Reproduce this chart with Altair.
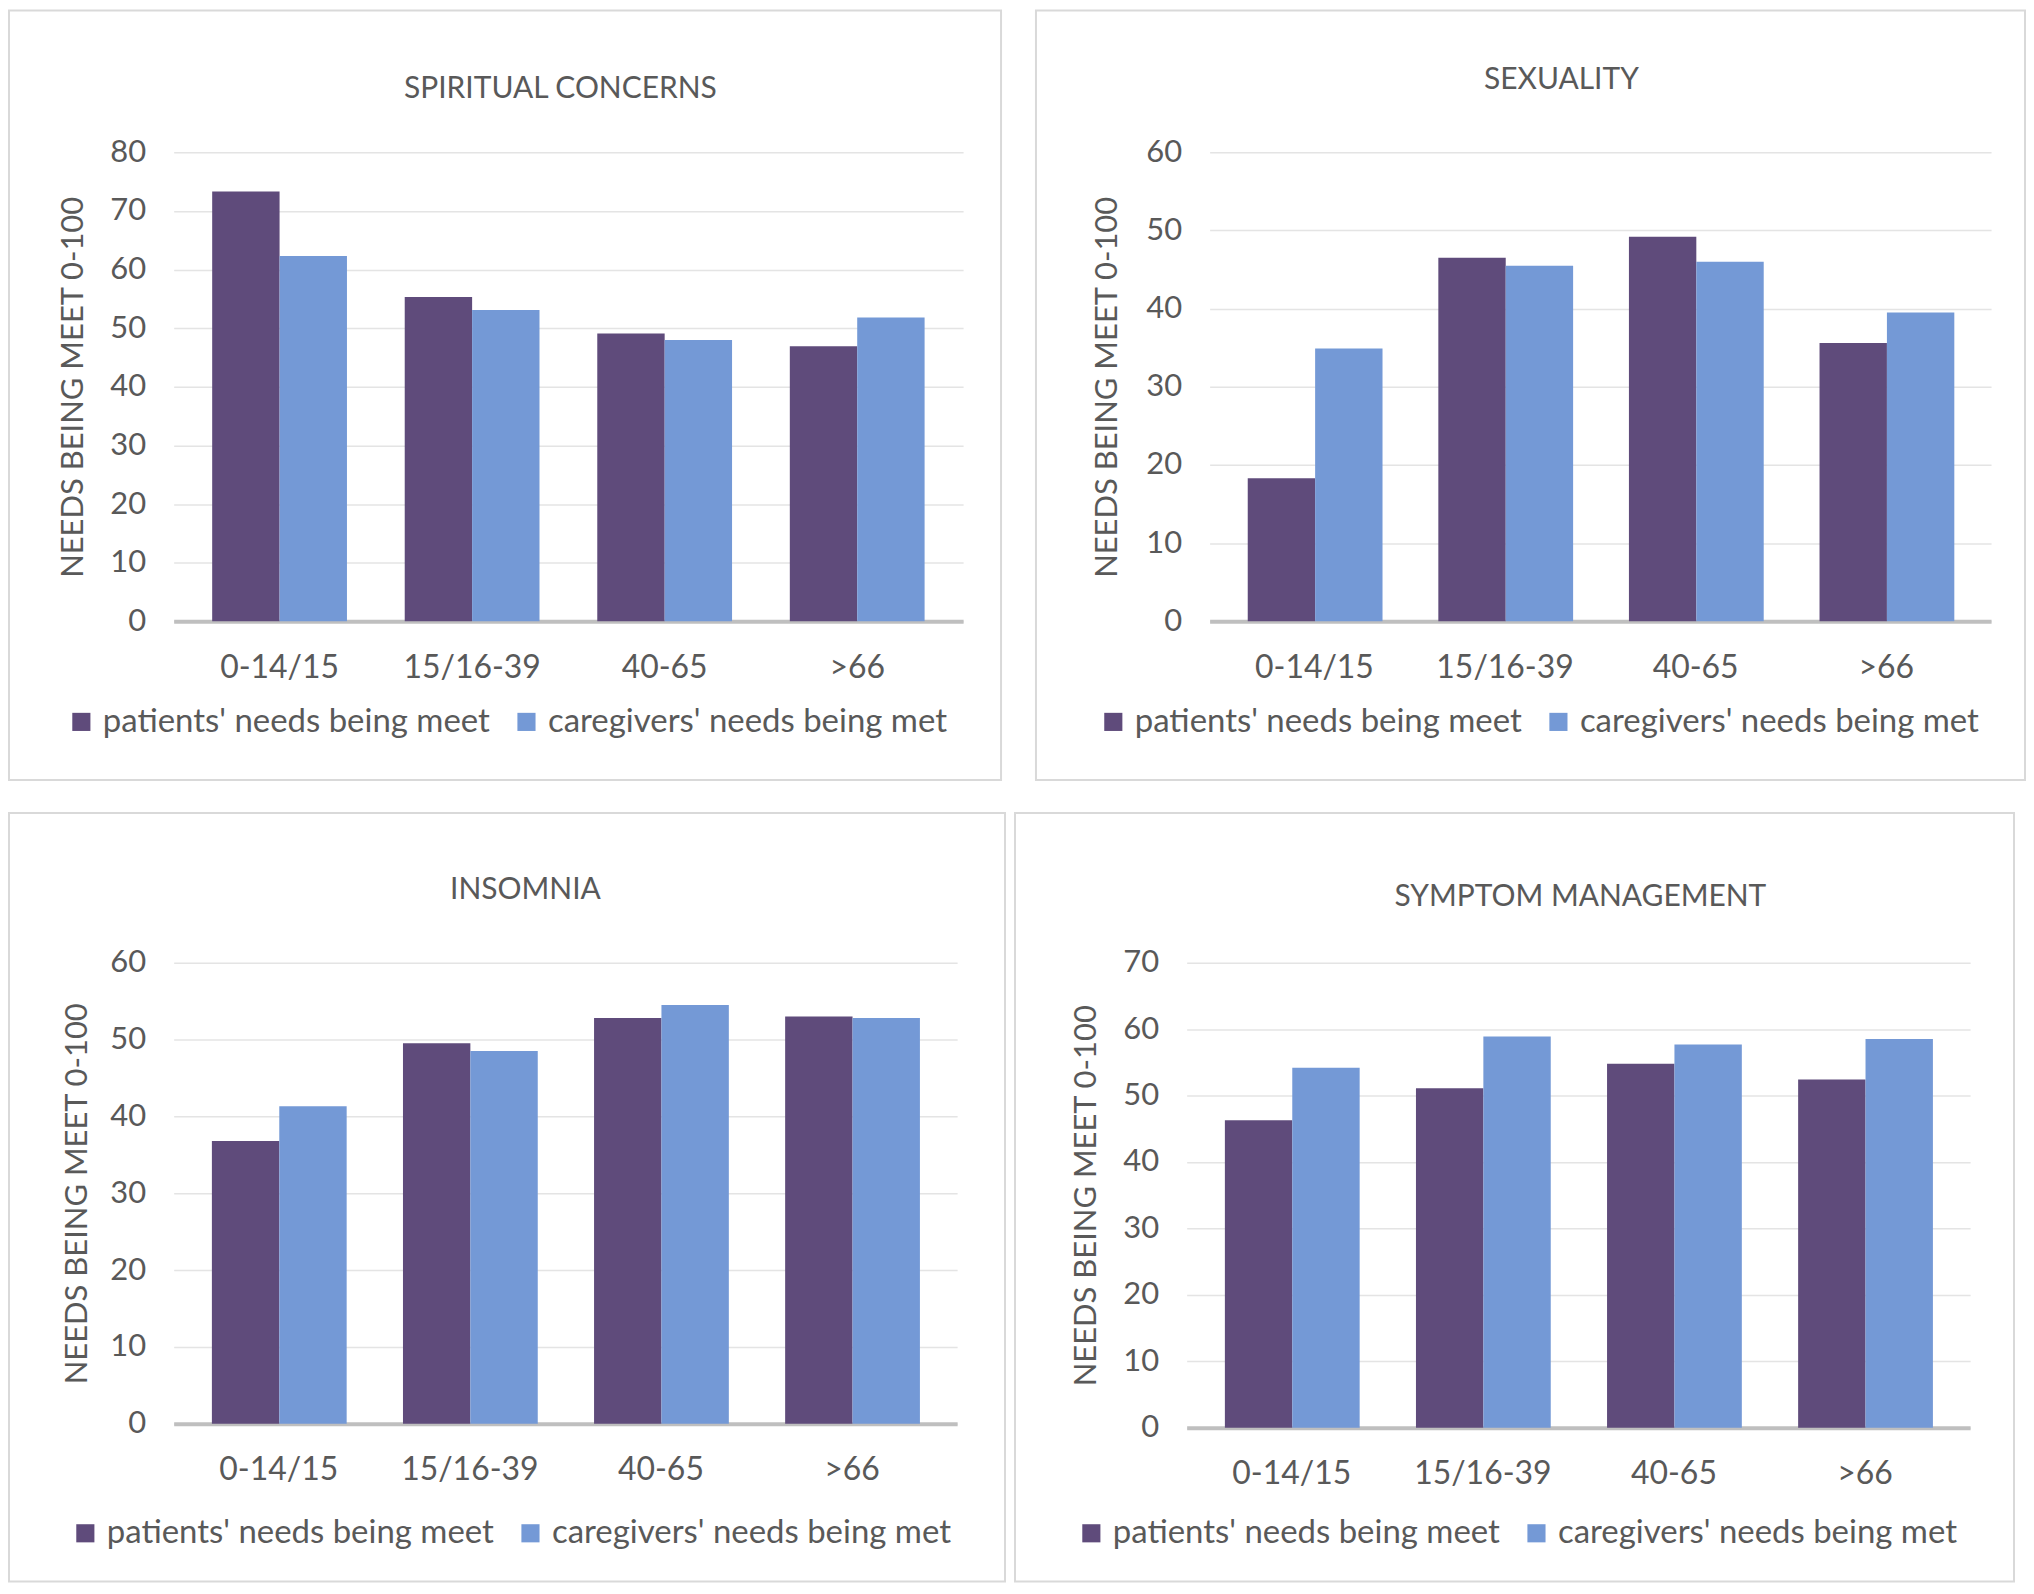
import altair as alt
import pandas as pd

groups = ["0-14/15", "15/16-39", "40-65", ">66"]
series = ["patients' needs being meet", "caregivers' needs being met"]
colors = ["#5F4B7B", "#7499D6"]

titles = ["SPIRITUAL CONCERNS", "SEXUALITY", "INSOMNIA", "SYMPTOM MANAGEMENT"]
y_title = "NEEDS BEING MEET 0-100"

spiritual_patients = [73.3, 55.3, 49.1, 46.9]
spiritual_caregivers = [62.3, 53.1, 48.0, 51.8]
sexuality_patients = [18.3, 46.5, 49.2, 35.6]
sexuality_caregivers = [34.9, 45.5, 46.0, 39.5]
insomnia_patients = [36.8, 49.5, 52.8, 53.0]
insomnia_caregivers = [41.3, 48.5, 54.5, 52.8]
symptom_patients = [46.3, 51.1, 54.8, 52.4]
symptom_caregivers = [54.2, 58.9, 57.7, 58.5]
y_max = [80, 60, 60, 70]

FONT = "Lato"
TEXT = "#595959"


def panel(title, patients, caregivers, ymax, W, H, left, right, top, bottom,
          title_dx, title_dy, legend_x, legend_off, ytitle_x):
    df = pd.DataFrame({
        "group": groups * 2,
        "series": [series[0]] * 4 + [series[1]] * 4,
        "value": patients + caregivers,
    })
    bars = alt.Chart(df).mark_bar().encode(
        x=alt.X("group:N", sort=groups,
                scale=alt.Scale(paddingInner=0.3, paddingOuter=0.2),
                axis=alt.Axis(title=None, labelAngle=0, labelFont=FONT, labelFontSize=32,
                              labelColor=TEXT, labelPadding=31, ticks=False,
                              domainColor="#BFBFBF", domainWidth=4, grid=False)),
        xOffset=alt.XOffset("series:N", sort=series,
                            scale=alt.Scale(paddingInner=0, paddingOuter=0)),
        y=alt.Y("value:Q", scale=alt.Scale(domain=[0, ymax], nice=False),
                axis=alt.Axis(values=list(range(0, ymax + 1, 10)), title=y_title,
                              titleFont=FONT, titleFontSize=31, titleFontWeight="normal",
                              titleColor=TEXT, titleAngle=-90, titleX=ytitle_x, titleY=H / 2,
                              titleAlign="center", titleBaseline="middle",
                              labelFont=FONT, labelFontSize=31, labelColor=TEXT,
                              labelPadding=28, ticks=False, domain=False,
                              gridColor="#E4E4E4", gridWidth=1.5)),
        color=alt.Color("series:N", sort=series,
                        scale=alt.Scale(domain=series, range=colors),
                        legend=alt.Legend(orient="none", legendX=legend_x,
                                          legendY=H + legend_off - 17,
                                          direction="horizontal", columns=2, title=None,
                                          labelFont=FONT, labelFontSize=33, labelColor=TEXT,
                                          symbolType="square", symbolSize=330,
                                          symbolStrokeWidth=0, labelOffset=5,
                                          columnPadding=20, labelLimit=700)),
    )
    border = alt.Chart(alt.Data(values=[{"k": 0}])).mark_rect(
        fill="#ffffff", fillOpacity=0, stroke="#D9D9D9", strokeWidth=2
    ).encode(x=alt.value(-left), x2=alt.value(W + right),
             y=alt.value(-top), y2=alt.value(H + bottom))
    ttl = alt.Chart(alt.Data(values=[{"k": 0}])).mark_text(
        text=title, font=FONT, fontSize=30, color=TEXT, align="center", baseline="middle"
    ).encode(x=alt.value(W / 2 + title_dx), y=alt.value(title_dy))
    return alt.layer(border, ttl, bars).properties(width=W, height=H)


p1 = panel(titles[0], spiritual_patients, spiritual_caregivers, y_max[0],
           791, 470, 165, 38, 142, 159, -8, -63, -109, 101, -100)
p2 = panel(titles[1], sexuality_patients, sexuality_caregivers, y_max[1],
           783, 470, 174, 34, 142, 159, -39, -72, -113, 101, -102)
p3 = panel(titles[2], insomnia_patients, insomnia_caregivers, y_max[2],
           785, 462, 165, 48, 150, 158, -40, -73, -105, 110, -96)
p4 = panel(titles[3], symptom_patients, symptom_caregivers, y_max[3],
           785, 466, 172, 44, 150, 154, 2, -66, -112, 106, -100)

row1 = alt.hconcat(p1, p2, spacing=33).resolve_scale(color="independent").resolve_legend(color="independent")
row2 = alt.hconcat(p3, p4, spacing=8).resolve_scale(color="independent").resolve_legend(color="independent")

chart = alt.vconcat(row1, row2, spacing=31).resolve_scale(
    color="independent").resolve_legend(color="independent").properties(
    padding=0, background="white"
).configure_view(strokeWidth=0)

chart.save("out.html", embed_options={"renderer": "svg", "actions": False})
